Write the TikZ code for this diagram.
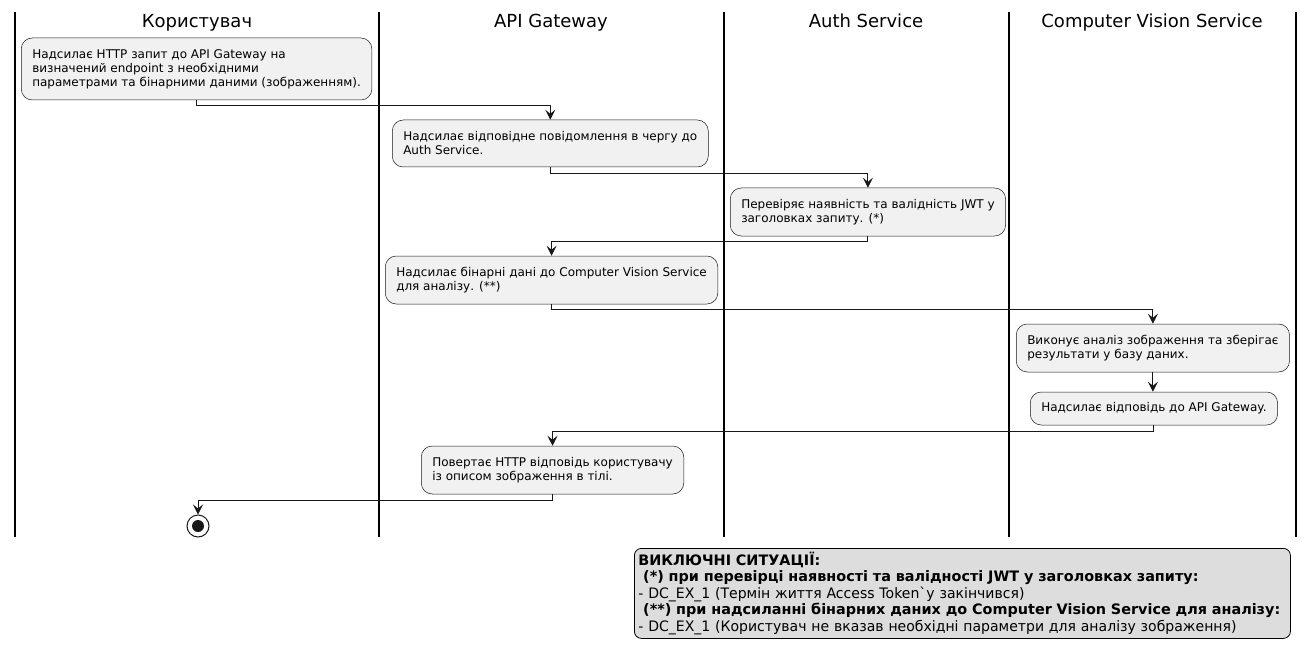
\documentclass[tikz,border=0pt]{standalone}
\usepackage{fontspec}
\setmainfont{DejaVu Sans}
\newfontfamily\condfont{DejaVu Sans}[FakeStretch=0.975]
\usetikzlibrary{arrows.meta}
\definecolor{actfill}{HTML}{F1F1F1}
\definecolor{actline}{HTML}{181818}
\definecolor{legfill}{HTML}{DDDDDD}
\tikzset{
  act/.style={draw=actline, fill=actfill, line width=0.5pt, rounded corners=11pt, anchor=west,
    inner xsep=11pt, inner ysep=0pt, font=\fontsize{12}{14}\selectfont, align=left},
  lane/.style={line width=1.3pt, draw=black},
  lanetitle/.style={font=\fontsize{18}{20}\selectfont, inner sep=0pt, anchor=base},
  conn/.style={draw=actline, line width=1pt, -{Stealth[length=10pt,width=10pt,inset=4pt]}},
}
\begin{document}
\begin{tikzpicture}[x=1pt,y=-1pt]
\useasboundingbox (0,0) rectangle (1314,663);
% lanes
\foreach \lx in {15,379,724,1009,1296} {\draw[lane] (\lx,12) -- (\lx,537);}
\node[lanetitle] (t1) at (197,28) {Користувач};
\node[lanetitle] (t2) at (551,28) {API Gateway};
\node[lanetitle] (t3) at (866,28) {Auth Service};
\node[lanetitle] (t4) at (1152,28) {Computer Vision Service};
% activities
\node[act, minimum height=62pt] (n1) at (21,69)
  {Надсилає HTTP запит до API Gateway на\\визначений endpoint з необхідними\\параметрами та бінарними даними (зображенням).};
\node[act, minimum height=47pt] (n2) at (392,143.5)
  {Надсилає відповідне повідомлення в чергу до\\Auth Service.};
\node[act, minimum height=48pt] (n3) at (730,212)
  {Перевіряє наявність та валідність JWT у\\заголовках запиту. (*)};
\node[act, minimum height=48pt] (n4) at (385,280)
  {Надсилає бінарні дані до Computer Vision Service\\для аналізу. (**)};
\node[act, minimum height=48pt] (n5) at (1016,348)
  {Виконує аналіз зображення та зберігає\\результати у базу даних.};
\node[act, minimum height=33pt] (n6) at (1030,408.5)
  {Надсилає відповідь до API Gateway.};
\node[act, minimum height=48pt] (n7) at (421,470)
  {Повертає HTTP відповідь користувачу\\із описом зображення в тілі.};
% end
\node[circle, draw=actline, line width=1pt, minimum size=22pt, inner sep=0pt] (end) at (198,526) {};
\fill[actline] (end.center) circle (6pt);
% connectors
\draw[conn] (n1.south) -- ++(0,5) -| (n2.north);
\draw[conn] (n2.south) -- ++(0,6) -| (n3.north);
\draw[conn] (n3.south) -- ++(0,5) -| (n4.north);
\draw[conn] (n4.south) -- ++(0,5) -| (n5.north);
\draw[conn] (n5.south) -- (n5.south |- n6.north);
\draw[conn] (n6.south) -- ++(0,6) -| (n7.north);
\draw[conn] (n7.south) -- ++(0,6) -| (end.north);
% legend
\node[draw=black, line width=0.8pt, fill=legfill, rounded corners=7pt, anchor=north west,
  minimum width=656pt, minimum height=90pt, text width=648pt, inner xsep=4pt, inner ysep=3pt, align=left,
  font=\fontsize{14.4}{16.5}\selectfont] (legend) at (634,548)
  {\textbf{ВИКЛЮЧНІ СИТУАЦІЇ:}\\
   \textbf{\ (*) при перевірці наявності та валідності JWT у заголовках запиту:}\\
   {\condfont - DC\_EX\_1 (Термін життя Access Token`у закінчився)}\\
   \textbf{\ (**) при надсиланні бінарних даних до Computer Vision Service для аналізу:}\\
   {\condfont - DC\_EX\_1 (Користувач не вказав необхідні параметри для аналізу зображення)}};
\end{tikzpicture}
\end{document}
